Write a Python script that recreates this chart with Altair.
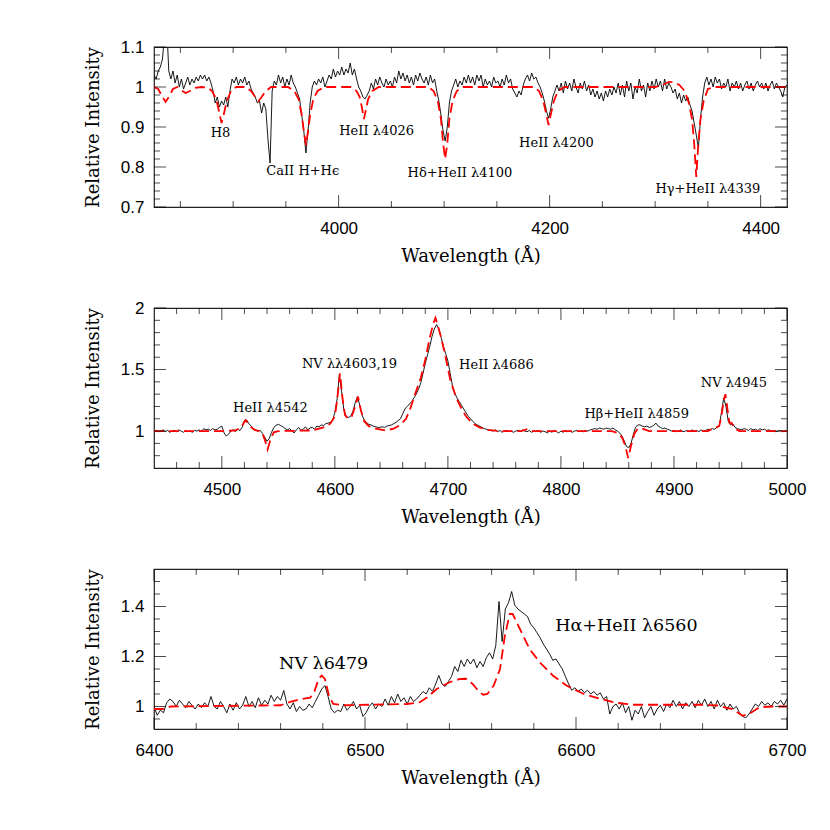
import altair as alt
import pandas as pd

W, H = 633, 160
MAJ, MIN = 12, 6

# ---------------- Panel 1 (3825-4425 A) ----------------
p1_start, p1_step = 3825, 2
p1_obs = [
    1.03, 1.02, 1.04, 1.05, 1.07, 1.13, 1.16, 1.04, 1.02, 1.04,
    1.01, 1.03, 1.00, 1.02, 0.995, 1.01, 1.025, 1.005, 1.02, 1.01,
    1.025, 1.015, 1.03, 1.02, 1.03, 1.015, 1.025, 1.01, 0.99, 0.96,
    0.975, 0.95, 0.965, 0.955, 0.975, 0.95, 0.99, 1.02, 1.01, 1.025,
    1.005, 1.02, 1.01, 1.025, 1.005, 1.015, 0.995, 0.985, 0.975, 0.96,
    0.965, 0.935, 0.96, 0.945, 0.87, 0.81, 0.99, 1.015, 1.005, 1.03,
    1.01, 1.025, 1.00, 1.02, 1.005, 1.03, 1.01, 1.00, 0.985, 0.97,
    0.93, 0.89, 0.835, 0.89, 0.96, 1.0, 1.015, 1.005, 1.02, 1.01,
    1.025, 1.0, 1.015, 1.03, 1.02, 1.045, 1.025, 1.04, 1.03, 1.05,
    1.03, 1.045, 1.035, 1.06, 1.03, 1.045, 1.02, 1.0, 0.99, 0.975,
    0.97, 0.98, 0.99, 1.01, 0.995, 1.02, 1.005, 1.025, 1.01, 1.0,
    1.02, 1.005, 1.015, 1.0, 1.025, 1.01, 1.04, 1.02, 1.035, 1.015,
    1.03, 1.01, 1.025, 1.005, 1.03, 1.015, 1.035, 1.02, 1.01, 1.025,
    1.005, 1.03, 1.01, 1.02, 0.99, 0.965, 0.93, 0.89, 0.865, 0.9,
    0.96, 0.99, 1.005, 1.02, 1.0, 1.015, 1.005, 1.025, 1.01, 1.03,
    1.01, 1.025, 1.005, 1.03, 1.015, 1.03, 1.0, 1.02, 1.005, 1.015,
    1.0, 1.025, 1.01, 1.015, 1.0, 1.02, 1.005, 1.03, 1.01, 1.02,
    0.995, 0.985, 0.975, 0.99, 0.98, 1.005, 1.02, 1.03, 1.015, 1.035,
    1.02, 1.025, 1.01, 1.0, 0.985, 0.965, 0.94, 0.922, 0.945, 0.975,
    0.99, 1.005, 0.99, 1.01, 0.985, 1.015, 0.995, 1.01, 0.99, 1.02,
    1.0, 0.985, 1.01, 0.995, 1.015, 0.99, 1.005, 0.98, 0.995, 0.975,
    0.99, 0.97, 0.985, 0.965, 0.99, 0.975, 0.995, 0.98, 1.0, 0.985,
    1.01, 0.98, 1.005, 0.975, 1.015, 0.99, 1.01, 0.97, 1.0, 0.985,
    1.02, 0.99, 1.005, 0.975, 1.01, 0.99, 1.015, 0.995, 1.02, 1.0,
    1.015, 0.99, 1.02, 0.995, 1.01, 1.0, 0.985, 0.995, 0.97, 0.985,
    0.96, 0.98, 0.965, 0.975, 0.955, 0.94, 0.91, 0.88, 0.847, 0.92,
    0.975, 1.01, 1.025, 1.005, 1.02, 1.0, 1.025, 1.01, 1.02, 0.995,
    1.01, 1.0, 1.02, 0.99, 1.01, 1.0, 1.015, 0.995, 1.01, 0.99,
    1.005, 1.015, 0.995, 1.01, 0.99, 1.005, 1.015, 1.0, 1.01, 0.995,
    1.01, 0.99, 1.005, 1.015, 0.995, 1.01, 1.0, 0.99, 0.975, 1.0,
    1.005,
]
p1_mod_w = [3825, 3829, 3833, 3836, 3839, 3843, 3847, 3851, 3855, 3859, 3864, 3870,
            3876, 3880, 3884, 3887, 3889, 3891, 3894, 3898, 3903, 3912, 3917, 3921,
            3924, 3927, 3931, 3936, 3952, 3958, 3962, 3965, 3967, 3969, 3971, 3973,
            3976, 3980, 3986, 4012, 4017, 4020, 4022, 4024, 4026, 4028, 4032, 4038,
            4085, 4090, 4094, 4097, 4099, 4101, 4103, 4105, 4108, 4112, 4118, 4185,
            4190, 4194, 4197, 4199, 4201, 4204, 4208, 4214, 4300, 4307, 4313, 4318,
            4323, 4328, 4332, 4335, 4337, 4339, 4341, 4343, 4346, 4350, 4356, 4425]
p1_mod_v = [1.0, 0.995, 0.975, 0.963, 0.975, 0.995, 1.0, 0.992, 0.985, 0.99, 0.998, 1.0,
            0.998, 0.99, 0.97, 0.935, 0.91, 0.93, 0.965, 0.99, 1.0, 1.0, 0.99, 0.975,
            0.965, 0.975, 0.99, 1.0, 1.0, 0.99, 0.97, 0.93, 0.89, 0.855, 0.89, 0.93,
            0.97, 0.99, 1.0, 1.0, 0.99, 0.975, 0.95, 0.92, 0.945, 0.97, 0.99, 1.0,
            1.0, 0.99, 0.965, 0.92, 0.86, 0.82, 0.86, 0.92, 0.965, 0.99, 1.0, 1.0,
            0.99, 0.965, 0.93, 0.905, 0.93, 0.965, 0.99, 1.0, 1.0, 1.005, 1.013, 1.012,
            1.005, 0.99, 0.96, 0.92, 0.86, 0.775, 0.86, 0.92, 0.965, 0.995, 1.0, 1.0]
p1_note_text = ["H8", "CaII H+Hϵ", "HeII λ4026", "Hδ+HeII λ4100", "HeII λ4200", "Hγ+HeII λ4339"]
p1_note_w = [3888, 3966, 4036, 4115, 4206.5, 4350]
p1_note_v = [0.884, 0.789, 0.891, 0.784, 0.859, 0.746]
p1_xdom, p1_ydom = [3825, 4425], [0.7, 1.1]
p1_xlab = [4000, 4200, 4400]
p1_xmin = [3850, 3900, 3950, 4050, 4100, 4150, 4250, 4300, 4350]
p1_ylab = [0.7, 0.8, 0.9, 1.0, 1.1]
p1_ymin = [0.72, 0.74, 0.76, 0.78, 0.82, 0.84, 0.86, 0.88, 0.92, 0.94, 0.96, 0.98,
           1.02, 1.04, 1.06, 1.08]

# ---------------- Panel 2 (4440-5000 A) ----------------
p2_start, p2_step = 4440, 2
p2_obs = [
    1.0, 1.005, 0.995, 1.0, 1.01, 0.995, 1.005, 0.99, 1.0, 1.005,
    0.995, 1.01, 1.0, 0.99, 1.005, 0.995, 1.0, 0.99, 1.005, 1.0,
    1.01, 0.995, 1.02, 1.01, 1.015, 1.005, 1.02, 1.01, 1.015, 1.03,
    1.04, 0.985, 0.96, 0.975, 1.0, 1.01, 0.995, 1.015, 1.005, 1.03,
    1.085, 1.09, 1.06, 1.04, 1.02, 1.01, 1.0, 1.005, 0.98, 0.95,
    0.917, 0.94, 0.99, 1.03, 1.047, 1.055, 1.045, 1.035, 1.02, 1.01,
    1.02, 1.0, 0.985, 1.01, 1.03, 1.005, 1.015, 1.035, 1.01, 1.025,
    1.03, 1.015, 1.04, 1.035, 1.05, 1.045, 1.06, 1.065, 1.07, 1.09,
    1.15, 1.26, 1.46, 1.32, 1.17, 1.12, 1.11, 1.12, 1.16, 1.23,
    1.28, 1.21, 1.13, 1.09, 1.07, 1.055, 1.05, 1.04, 1.035, 1.03,
    1.03, 1.035, 1.03, 1.04, 1.045, 1.05, 1.06, 1.07, 1.085, 1.10,
    1.14, 1.18, 1.20, 1.22, 1.24, 1.27, 1.30, 1.34, 1.39, 1.47,
    1.55, 1.62, 1.69, 1.77, 1.83, 1.865, 1.83, 1.76, 1.69, 1.63,
    1.57, 1.47, 1.37, 1.31, 1.27, 1.24, 1.21, 1.18, 1.15, 1.12,
    1.10, 1.08, 1.06, 1.05, 1.04, 1.03, 1.02, 1.015, 1.01, 1.005,
    1.0, 1.01, 0.995, 1.005, 0.99, 1.0, 1.005, 0.995, 1.0, 0.99,
    1.0, 1.005, 0.995, 1.01, 1.0, 0.995, 1.005, 0.99, 1.0, 0.995,
    1.005, 0.99, 1.0, 0.995, 0.985, 1.0, 0.99, 1.005, 0.995, 0.985,
    1.0, 0.99, 1.005, 0.995, 1.0, 0.99, 1.0, 1.005, 0.995, 1.0,
    0.995, 1.005, 1.0, 1.01, 1.015, 1.02, 1.015, 1.025, 1.02, 1.015,
    1.025, 1.02, 1.015, 1.025, 1.01, 1.0, 0.985, 0.96, 0.92, 0.875,
    0.865, 0.9, 0.97, 1.03, 1.05, 1.05, 1.04, 1.035, 1.04, 1.03,
    1.035, 1.045, 1.065, 1.04, 1.03, 1.02, 1.025, 1.015, 1.01, 1.0,
    1.005, 0.995, 1.0, 1.01, 0.995, 1.0, 1.005, 0.995, 1.01, 1.0,
    1.005, 0.995, 1.01, 1.0, 1.005, 1.015, 1.01, 1.02, 1.015, 1.03,
    1.04, 1.15, 1.27, 1.2, 1.08, 1.05, 1.06, 1.03, 1.02, 1.015,
    1.01, 1.02, 1.015, 1.005, 1.02, 1.01, 1.015, 1.005, 1.02, 1.01,
    1.015, 1.005, 1.01, 1.0, 1.005, 0.995, 1.0, 1.005, 0.995, 1.0,
    1.0,
]
p2_mod_w = [4440, 4500, 4512, 4517, 4521, 4525, 4529, 4533, 4536, 4538, 4540.5, 4543,
            4546, 4550, 4580, 4590, 4596, 4600, 4602, 4604.5, 4607, 4609, 4612, 4615,
            4618, 4620.5, 4623, 4626, 4630, 4636, 4645, 4652, 4658, 4663, 4667, 4671,
            4676, 4680, 4684, 4687, 4689, 4691, 4694, 4698, 4702, 4707, 4711, 4716,
            4722, 4728, 4735, 4745, 4765, 4770, 4775, 4845, 4850, 4854, 4857, 4859.5,
            4862, 4865, 4868, 4872, 4878, 4930, 4934, 4937, 4940, 4942, 4944, 4945.5,
            4947, 4949, 4951, 4954, 4958, 5000]
p2_mod_v = [1.0, 1.0, 1.005, 1.03, 1.09, 1.04, 1.01, 1.0, 0.98, 0.93, 0.85, 0.93,
            0.99, 1.0, 1.005, 1.03, 1.06, 1.12, 1.25, 1.47, 1.25, 1.13, 1.1, 1.12,
            1.2, 1.28, 1.17, 1.08, 1.04, 1.02, 1.005, 1.02, 1.05, 1.1, 1.19, 1.3,
            1.43, 1.58, 1.76, 1.87, 1.92, 1.86, 1.76, 1.6, 1.42, 1.28, 1.2, 1.12,
            1.06, 1.03, 1.01, 1.0, 1.0, 1.015, 1.0, 1.0, 0.985, 0.95, 0.88, 0.78,
            0.88, 0.98, 1.02, 1.02, 1.0, 1.0, 1.02, 1.03, 1.04, 1.12, 1.25, 1.30,
            1.2, 1.07, 1.065, 1.02, 1.0, 1.0]
p2_note_text = ["HeII λ4542", "NV λλ4603,19", "HeII λ4686", "Hβ+HeII λ4859", "NV λ4945"]
p2_note_w = [4543, 4613, 4743, 4867, 4953]
p2_note_v = [1.185, 1.542, 1.534, 1.136, 1.388]
p2_xdom, p2_ydom = [4440, 5000], [0.7, 2.0]
p2_xlab = [4500, 4600, 4700, 4800, 4900, 5000]
p2_xmin = [4460, 4480, 4520, 4540, 4560, 4580, 4620, 4640, 4660, 4680, 4720, 4740,
           4760, 4780, 4820, 4840, 4860, 4880, 4920, 4940, 4960, 4980]
p2_ylab = [1.0, 1.5, 2.0]
p2_ymin = [0.8, 0.9, 1.1, 1.2, 1.3, 1.4, 1.6, 1.7, 1.8, 1.9]

# ---------------- Panel 3 (6400-6700 A) ----------------
p3_start, p3_step = 6400, 1.5
p3_obs = [
    1.0, 0.965, 0.985, 0.975, 1.015, 1.03, 1.02, 1.0, 1.025, 1.01,
    0.995, 1.02, 1.005, 0.99, 1.01, 0.995, 1.015, 1.0, 1.04, 1.0,
    0.99, 1.02, 1.0, 0.975, 1.01, 0.985, 1.015, 0.99, 1.005, 1.04,
    1.0, 1.02, 0.995, 1.035, 1.005, 1.025, 1.01, 1.045, 1.02, 1.04,
    1.025, 1.064, 1.01, 0.99, 1.015, 0.98, 1.0, 0.985, 0.99, 1.01,
    0.995, 1.02, 1.045, 1.07, 1.084, 1.04, 0.99, 0.975, 0.985, 0.98,
    1.01, 0.985, 1.0, 1.02, 0.99, 1.005, 0.96, 0.975, 1.0, 1.015,
    0.99, 1.01, 1.0, 1.03, 1.005, 1.04, 1.015, 1.05, 1.02, 1.035,
    1.01, 1.04, 1.02, 1.03, 1.045, 1.06, 1.05, 1.075, 1.06, 1.09,
    1.124, 1.09, 1.08, 1.1, 1.12, 1.16, 1.14, 1.185, 1.16, 1.19,
    1.17, 1.19, 1.155, 1.18, 1.16, 1.195, 1.215, 1.19, 1.245, 1.42,
    1.26, 1.39, 1.415, 1.46, 1.405, 1.39, 1.38, 1.37, 1.36, 1.33,
    1.315, 1.295, 1.275, 1.25, 1.23, 1.21, 1.185, 1.19, 1.17, 1.15,
    1.12, 1.09, 1.065, 1.075, 1.06, 1.07, 1.055, 1.065, 1.05, 1.06,
    1.045, 1.055, 1.03, 1.04, 0.97, 1.0, 1.01, 0.99, 1.015, 0.975,
    1.0, 0.945, 0.985, 0.97, 1.0, 0.955, 0.98, 1.0, 0.965, 0.99,
    1.005, 0.98, 1.01, 0.995, 1.025, 1.0, 1.02, 0.99, 1.015, 1.0,
    1.02, 0.995, 1.025, 1.005, 1.03, 1.0, 1.02, 0.99, 1.025, 1.0,
    1.015, 0.985, 1.01, 0.99, 1.0, 0.975, 0.96, 0.955, 0.97, 0.99,
    1.01, 1.0, 1.02, 1.005, 1.015, 1.0, 1.02, 1.01, 1.025, 1.005,
    1.03,
]
p3_mod_w = [6400, 6404, 6408, 6460, 6465, 6470, 6474, 6476, 6478, 6479.5, 6481, 6483,
            6485, 6490, 6520, 6526, 6530, 6534, 6540, 6545, 6548, 6551, 6554, 6556,
            6558, 6561, 6564, 6566.3, 6568.6, 6570, 6573.4, 6578, 6582.8, 6589, 6595.5,
            6603.4, 6611.3, 6619, 6627, 6660, 6667, 6674, 6679, 6682, 6687, 6693, 6700]
p3_mod_v = [0.99, 0.99, 1.0, 1.005, 1.02, 1.03, 1.035, 1.06, 1.11, 1.124, 1.11, 1.04,
            1.01, 1.005, 1.01, 1.017, 1.04, 1.07, 1.097, 1.11, 1.111, 1.09, 1.06, 1.047,
            1.05, 1.084, 1.15, 1.284, 1.37, 1.37, 1.31, 1.23, 1.177, 1.124, 1.084,
            1.051, 1.031, 1.015, 1.007, 1.007, 1.004, 0.99, 0.963, 0.97, 0.997, 1.0, 1.0]
p3_note_text = ["NV λ6479", "Hα+HeII λ6560"]
p3_note_w = [6480.4, 6623.9]
p3_note_v = [1.169, 1.321]
p3_xdom, p3_ydom = [6400, 6700], [0.91, 1.55]
p3_xlab = [6400, 6500, 6600, 6700]
p3_xmin = [6420, 6440, 6460, 6480, 6520, 6540, 6560, 6580, 6620, 6640, 6660, 6680]
p3_ylab = [1.0, 1.2, 1.4]
p3_ymin = [0.95, 1.05, 1.1, 1.15, 1.25, 1.3, 1.35, 1.45, 1.5]


def panel(start, step, obs, mw, mv, nt, nw, nv, xdom, ydom, xlab, xmin_, ylab, ymin_, nsize):
    xs = alt.X("w:Q", scale=alt.Scale(domain=xdom, nice=False, zero=False),
               axis=alt.Axis(values=xlab, format="d", title="Wavelength (Å)",
                             ticks=False, tickSize=0, domain=False, grid=False,
                             labelFont="Liberation Sans", labelFontSize=17, labelColor="black",
                             labelPadding=13, labelFlush=False, labelOverlap=False,
                             titleFont="DejaVu Serif", titleFontSize=18, titleFontWeight="normal",
                             titleColor="black", titlePadding=6, minExtent=34, maxExtent=34))
    ys = alt.Y("v:Q", scale=alt.Scale(domain=ydom, nice=False, zero=False),
               axis=alt.Axis(values=ylab, format="~g", title="Relative Intensity",
                             ticks=False, tickSize=0, domain=False, grid=False,
                             labelFont="Liberation Sans", labelFontSize=17, labelColor="black",
                             labelPadding=10, labelFlush=False, labelOverlap=False,
                             titleFont="DejaVu Serif", titleFontSize=18, titleFontWeight="normal",
                             titleColor="black", titlePadding=18, minExtent=34, maxExtent=34))
    obs_df = pd.DataFrame({"w": [start + step * i for i in range(len(obs))], "v": obs})
    mod_df = pd.DataFrame({"w": mw, "v": mv})
    note_df = pd.DataFrame({"t": nt, "w": nw, "v": nv})
    xmaj_df = pd.DataFrame({"w": xlab})
    xmin_df = pd.DataFrame({"w": xmin_})
    ymaj_df = pd.DataFrame({"v": ylab})
    ymin_df = pd.DataFrame({"v": ymin_})

    layers = [
        alt.Chart(obs_df).mark_line(color="black", strokeWidth=0.9, clip=True).encode(x=xs, y=ys),
        alt.Chart(mod_df).mark_line(color="#ff0000", strokeWidth=1.8, strokeDash=[10, 5], clip=True).encode(x=xs, y=ys),
        alt.Chart(note_df).mark_text(font="DejaVu Serif", fontSize=nsize, color="black",
                                     align="center", baseline="middle").encode(x=xs, y=ys, text="t:N"),
    ]
    for df, L in [(xmaj_df, MAJ), (xmin_df, MIN)]:
        layers.append(alt.Chart(df).mark_tick(color="black", thickness=1, size=L, orient="vertical").encode(
            x=xs, y=alt.value(H - L / 2)))
        layers.append(alt.Chart(df).mark_tick(color="black", thickness=1, size=L, orient="vertical").encode(
            x=xs, y=alt.value(L / 2)))
    for df, L in [(ymaj_df, MAJ), (ymin_df, MIN)]:
        layers.append(alt.Chart(df).mark_tick(color="black", thickness=1, size=L, orient="horizontal").encode(
            y=ys, x=alt.value(L / 2)))
        layers.append(alt.Chart(df).mark_tick(color="black", thickness=1, size=L, orient="horizontal").encode(
            y=ys, x=alt.value(W - L / 2)))
    return alt.layer(*layers).properties(width=W, height=H)


c1 = panel(p1_start, p1_step, p1_obs, p1_mod_w, p1_mod_v, p1_note_text, p1_note_w, p1_note_v,
           p1_xdom, p1_ydom, p1_xlab, p1_xmin, p1_ylab, p1_ymin, 13)
c2 = panel(p2_start, p2_step, p2_obs, p2_mod_w, p2_mod_v, p2_note_text, p2_note_w, p2_note_v,
           p2_xdom, p2_ydom, p2_xlab, p2_xmin, p2_ylab, p2_ymin, 13)
c3 = panel(p3_start, p3_step, p3_obs, p3_mod_w, p3_mod_v, p3_note_text, p3_note_w, p3_note_v,
           p3_xdom, p3_ydom, p3_xlab, p3_xmin, p3_ylab, p3_ymin, 17.5)

chart = alt.vconcat(c1, c2, c3, spacing=101, bounds="flush").properties(
    padding={"left": 75, "top": 29, "right": 5, "bottom": 5},
    background="white",
).configure_view(stroke="#222222", strokeWidth=1.2)

chart.save("out.html", embed_options={"renderer": "svg", "actions": False})
